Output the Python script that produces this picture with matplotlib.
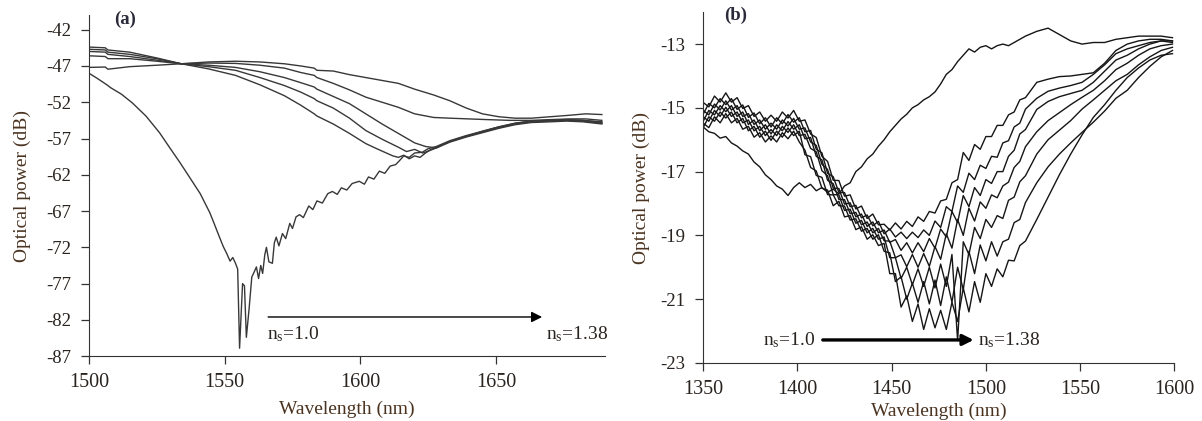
import matplotlib
matplotlib.use('Agg')
import matplotlib.pyplot as plt

plt.rcParams['font.family'] = 'Liberation Serif'
plt.rcParams['mathtext.fontset'] = 'custom'
plt.rcParams['mathtext.rm'] = 'Liberation Serif'
plt.rcParams['mathtext.it'] = 'Liberation Serif:italic'
plt.rcParams['axes.unicode_minus'] = False

lab_col = '#4a3320'   # brownish text of the original figure
tick_col = '#2a2420'

# ---------------- panel (a) : 1500-1690 nm ----------------
# ns = 1.0 (air), deep resonance near 1556 nm
wl_a0 = [1500, 1503, 1506.6, 1508, 1512, 1516, 1521, 1526, 1530, 1533.5, 1537, 1541, 1544.5,
         1546, 1548, 1549.5, 1550.7, 1552, 1553, 1554, 1554.8, 1555.5, 1556.6, 1557.3, 1558,
         1559, 1560, 1561, 1561.7, 1562.5, 1563.3, 1564, 1564.8, 1565.4, 1566.3, 1567.6, 1568.3,
         1569, 1570, 1571.3, 1572.5, 1574, 1575, 1576.3, 1577.6, 1579, 1581, 1582.5, 1584, 1586,
         1588, 1589.7, 1591.5, 1593, 1595, 1597, 1599.6, 1601.5, 1603, 1605, 1607, 1609, 1611,
         1613, 1614.3, 1616, 1618, 1620, 1622.8, 1625, 1628, 1633, 1639, 1645, 1651, 1657, 1663,
         1670, 1676, 1682, 1689]
pw_a0 = [-48.0, -48.7, -49.6, -50.0, -50.9, -52.1, -53.9, -56.2, -58.4, -60.3, -62.3, -64.6, -67.2,
         -68.6, -70.5, -71.9, -72.8, -73.9, -73.4, -74.2, -75.0, -85.9, -77.0, -77.3, -84.4,
         -80.5, -76.1, -75.3, -74.7, -76.3, -74.5, -75.6, -73.0, -72.0, -74.0, -74.2, -71.4,
         -70.6, -71.8, -70.1, -70.8, -68.7, -69.4, -67.8, -67.5, -67.9, -66.3, -66.8, -65.6, -65.9,
         -64.6, -64.3, -64.7, -63.8, -64.1, -63.2, -62.9, -63.3, -62.3, -62.6, -61.5, -61.8, -60.8,
         -60.6, -60.1, -59.4, -59.6, -59.0, -58.9, -58.4, -58.1, -57.3, -56.6, -56.0, -55.4, -54.9, -54.6,
         -54.5, -54.4, -54.5, -54.8]

# higher surrounding indices (dip moves to longer wavelength)
wl_a1 = [1500, 1506, 1507, 1515, 1525, 1534, 1544, 1554, 1563, 1572, 1578, 1583, 1584, 1590, 1596,
         1602, 1606, 1609, 1612, 1614, 1616, 1618, 1620, 1622, 1624, 1626, 1628, 1633, 1639, 1645,
         1651, 1657, 1663, 1670, 1676, 1682, 1689]
pw_a1 = [-44.4, -44.5, -44.8, -45.1, -45.9, -46.7, -47.4, -48.3, -49.6, -51.1, -52.4, -53.6, -53.9, -55.0, -56.3,
         -57.7, -58.4, -58.9, -59.4, -59.6, -59.3, -59.8, -59.4, -59.6, -59.0, -58.5, -58.2, -57.4, -56.7, -56.0,
         -55.4, -54.9, -54.6, -54.5, -54.4, -54.5, -54.7]

wl_a2 = [1500, 1506, 1507, 1515, 1525, 1534, 1544, 1554, 1563, 1572, 1578, 1583, 1584, 1590, 1596,
         1602, 1608, 1614, 1617, 1620, 1623, 1626, 1628, 1633, 1639, 1645, 1651, 1657, 1663, 1670,
         1676, 1682, 1689]
pw_a2 = [-44.7, -44.8, -45.1, -45.4, -46.0, -46.7, -47.1, -47.6, -48.6, -49.7, -50.6, -51.5, -51.8, -52.8, -54.2,
         -55.9, -57.1, -58.2, -58.8, -58.5, -59.0, -58.6, -58.3, -57.5, -56.8, -56.2, -55.6, -55.1, -54.8, -54.7,
         -54.6, -54.7, -55.0]

wl_a3 = [1500, 1506, 1507, 1515, 1525, 1534, 1544, 1554, 1563, 1572, 1578, 1583, 1584, 1590, 1596,
         1602, 1608, 1614, 1620, 1624, 1628, 1633, 1639, 1645, 1651, 1657, 1663, 1670, 1676, 1682, 1689]
pw_a3 = [-45.0, -45.1, -45.4, -45.7, -46.2, -46.7, -46.9, -47.2, -47.8, -48.6, -49.3, -49.9, -50.2, -51.2, -52.2,
         -53.6, -55.0, -56.3, -57.6, -58.1, -58.3, -57.4, -56.7, -56.1, -55.5, -55.0, -54.7, -54.6, -54.5, -54.6, -54.9]

wl_a4 = [1500, 1506, 1507, 1515, 1525, 1534, 1544, 1554, 1563, 1572, 1578, 1583, 1584, 1590, 1596,
         1602, 1608, 1614, 1620, 1627, 1633, 1640, 1647, 1655, 1663, 1670, 1677, 1683, 1689]
pw_a4 = [-45.6, -45.7, -46.0, -46.0, -46.35, -46.7, -46.6, -46.65, -46.9, -47.3, -47.9, -48.3, -48.6, -49.4, -50.3,
         -51.3, -52.0, -52.7, -53.6, -54.1, -54.2, -54.3, -54.4, -54.5, -54.5, -54.4, -54.3, -54.3, -54.5]

wl_a5 = [1500, 1506, 1507, 1515, 1525, 1534, 1544, 1554, 1563, 1572, 1578, 1583, 1584, 1590, 1596,
         1602, 1608, 1614, 1620, 1627, 1633, 1639, 1645, 1651, 1657, 1663, 1670, 1677, 1683, 1689]
pw_a5 = [-47.2, -47.15, -47.45, -47.1, -46.9, -46.7, -46.45, -46.35, -46.45, -46.7, -47.0, -47.3, -47.6, -47.7, -48.2,
         -48.6, -49.0, -49.4, -50.2, -51.0, -51.8, -52.8, -53.6, -54.0, -54.2, -54.2, -54.0, -53.8, -53.6, -53.7]

# ---------------- panel (b) : 1350-1600 nm ----------------
wl_b = [1350, 1353, 1356, 1359, 1362, 1365, 1368, 1371, 1374, 1377,
        1380, 1383, 1386, 1389, 1392, 1395, 1398, 1401, 1404, 1407,
        1410, 1413, 1416, 1419, 1422, 1425, 1428, 1431, 1434, 1437,
        1440, 1443, 1446, 1449, 1452, 1455, 1458, 1461, 1464, 1467,
        1470, 1473, 1476, 1479, 1482, 1485, 1488, 1491, 1494, 1497,
        1500, 1503, 1506, 1509, 1512, 1515, 1518, 1521,
        1527, 1533, 1539, 1545, 1551, 1557, 1563, 1569, 1575, 1581, 1587, 1593, 1599]

pw_b0 = [-15.6, -15.75, -15.8, -15.95, -15.9, -16.1, -16.2, -16.35, -16.45, -16.7,
         -16.85, -17.1, -17.25, -17.45, -17.55, -17.75, -17.5, -17.35, -17.5, -17.4,
         -17.6, -17.5, -17.65, -17.55, -17.7, -17.45, -17.35, -17.0, -16.85, -16.6,
         -16.45, -16.2, -16.0, -15.75, -15.55, -15.35, -15.2, -15.0, -14.9, -14.75,
         -14.65, -14.5, -14.25, -13.95, -13.8, -13.55, -13.35, -13.15, -13.25, -13.1,
         -13.05, -13.15, -13.05, -13.0, -13.05, -12.95, -12.85, -12.75,
         -12.6, -12.5, -12.7, -12.9, -13.0, -12.95, -12.95, -12.85, -12.8, -12.75, -12.75, -12.75, -12.8]

pw_b1 = [-14.83, -14.97, -14.63, -14.82, -14.53, -14.82, -14.68, -15.02, -14.93, -15.27,
         -15.13, -15.42, -15.23, -15.42, -15.13, -15.32, -15.08, -15.42, -15.38, -15.82,
         -15.93, -16.52, -16.68, -17.27, -17.28, -17.77, -17.73, -18.17, -18.08, -18.47,
         -18.33, -18.67, -18.65, -18.83, -18.61, -18.8, -18.56, -18.72, -18.42, -18.56,
         -18.25, -18.3, -17.92, -17.87, -17.35, -17.25, -16.4, -16.65, -16.15, -16.3,
         -15.9, -15.9, -15.55, -15.55, -15.22, -15.13, -14.75, -14.68,
         -14.2, -14.1, -14.02, -14.0, -13.95, -13.9, -13.6, -13.2, -13.0, -12.9, -12.85, -12.85, -12.9]

pw_b2 = [-15.2, -14.86, -15.0, -14.71, -14.9, -14.71, -15.05, -14.91, -15.3, -15.16,
         -15.5, -15.31, -15.6, -15.31, -15.5, -15.21, -15.45, -15.31, -15.75, -15.71,
         -16.3, -16.41, -17.05, -17.16, -17.65, -17.66, -18.1, -18.06, -18.45, -18.36,
         -18.7, -18.56, -18.95, -18.8, -19.05, -18.9, -19.1, -18.9, -19.07, -18.83,
         -19.0, -18.55, -18.75, -18.1, -18.25, -17.45, -17.65, -17.05, -17.25, -16.8,
         -16.9, -16.52, -16.55, -16.1, -16.03, -15.6, -15.48, -15.04,
         -14.7, -14.48, -14.38, -14.3, -14.2, -13.95, -13.65, -13.3, -13.15, -13.05, -12.95, -12.9, -12.95]

pw_b3 = [-15.08, -15.22, -14.88, -15.07, -14.78, -15.07, -14.93, -15.27, -15.18, -15.52,
         -15.38, -15.67, -15.48, -15.67, -15.38, -15.57, -15.33, -15.67, -15.63, -16.07,
         -16.18, -16.77, -16.93, -17.52, -17.53, -18.02, -17.98, -18.42, -18.33, -18.72,
         -18.58, -18.92, -18.83, -19.22, -19.13, -19.47, -19.23, -19.55, -19.23, -19.51,
         -19.1, -19.4, -18.8, -19.05, -18.25, -18.6, -17.75, -18.1, -17.5, -17.75,
         -17.25, -17.37, -17.0, -17.0, -16.52, -16.33, -15.82, -15.68,
         -15.05, -14.8, -14.65, -14.55, -14.45, -14.2, -13.85, -13.5, -13.35, -13.15, -13.0, -12.9, -12.9]

pw_b4 = [-15.42, -15.08, -15.22, -14.93, -15.12, -14.93, -15.27, -15.13, -15.52, -15.38,
         -15.72, -15.53, -15.82, -15.53, -15.72, -15.43, -15.67, -15.53, -15.97, -15.93,
         -16.52, -16.63, -17.27, -17.38, -17.87, -17.88, -18.32, -18.28, -18.67, -18.58,
         -18.92, -18.78, -19.17, -19.18, -19.7, -19.61, -19.98, -19.6, -20.0, -19.57,
         -19.97, -19.35, -19.75, -18.95, -19.4, -18.5, -19.0, -18.15, -18.55, -17.95,
         -18.15, -17.73, -17.82, -17.45, -17.33, -16.87, -16.68, -16.22,
         -15.75, -15.4, -15.15, -14.9, -14.67, -14.45, -14.15, -13.8, -13.6, -13.35, -13.15, -13.05, -13.0]

pw_b5 = [-15.28, -15.42, -15.08, -15.27, -14.98, -15.27, -15.13, -15.47, -15.38, -15.72,
         -15.58, -15.87, -15.68, -15.87, -15.58, -15.77, -15.53, -15.87, -15.83, -16.27,
         -16.38, -16.97, -17.13, -17.72, -17.73, -18.22, -18.18, -18.62, -18.53, -18.92,
         -18.78, -19.12, -19.05, -19.7, -19.7, -20.35, -20.0, -20.55, -20.05, -20.6,
         -20.0, -20.65, -19.9, -20.6, -19.6, -22.3, -19.2, -19.6, -18.75, -19.1,
         -18.5, -18.75, -18.38, -18.47, -17.9, -17.8, -17.32, -17.13,
         -16.45, -16.0, -15.7, -15.4, -15.04, -14.75, -14.45, -14.15, -13.95, -13.65, -13.4, -13.2, -13.1]

pw_b6 = [-15.62, -15.28, -15.42, -15.13, -15.32, -15.13, -15.47, -15.33, -15.72, -15.58,
         -15.92, -15.73, -16.02, -15.73, -15.92, -15.63, -15.87, -15.73, -16.47, -16.53,
         -17.12, -17.18, -17.72, -17.73, -18.07, -18.08, -18.52, -18.48, -18.87, -18.78,
         -19.12, -18.98, -19.5, -19.55, -20.45, -20.3, -21.0, -20.5, -21.1, -20.45,
         -21.15, -20.4, -21.2, -20.3, -21.1, -20.0, -20.7, -19.5, -20.2, -19.3,
         -19.8, -19.2, -19.65, -19.2, -19.12, -18.6, -18.5, -17.97,
         -17.35, -16.85, -16.45, -16.1, -15.77, -15.45, -15.1, -14.7, -14.45, -14.05, -13.7, -13.4, -13.2]

pw_b7 = [-15.48, -15.62, -15.28, -15.47, -15.18, -15.47, -15.33, -15.67, -15.58, -15.92,
         -15.78, -16.07, -15.88, -16.07, -15.78, -15.97, -15.73, -16.07, -16.33, -16.87,
         -16.98, -17.52, -17.58, -18.07, -17.93, -18.42, -18.38, -18.82, -18.73, -19.12,
         -18.98, -19.32, -19.25, -20.2, -20.2, -21.25, -20.9, -21.7, -21.15, -21.95,
         -21.3, -21.9, -21.35, -21.95, -21.1, -21.7, -20.65, -21.4, -20.45, -21.1,
         -20.2, -20.6, -20.05, -20.3, -19.78, -19.8, -19.32, -19.18,
         -18.5, -17.8, -17.1, -16.45, -15.85, -15.3, -14.9, -14.45, -14.05, -13.75, -13.5, -13.35, -13.3]

fig = plt.figure(figsize=(12.02, 4.21), dpi=100)
ax1 = fig.add_axes([0.074, 0.154, 0.429, 0.81])
ax2 = fig.add_axes([0.585, 0.138, 0.392, 0.833])

curves_a = [(wl_a0, pw_a0), (wl_a1, pw_a1), (wl_a2, pw_a2), (wl_a3, pw_a3), (wl_a4, pw_a4), (wl_a5, pw_a5)]
for wl, pw in curves_a:
    ax1.plot(wl, pw, color='#383838', lw=1.0)

for pw in [pw_b0, pw_b1, pw_b2, pw_b3, pw_b4, pw_b5, pw_b6, pw_b7]:
    ax2.plot(wl_b, pw, color='#151515', lw=1.0)

ax1.set_xlim(1500, 1690)
ax1.set_ylim(-87, -40)
ax1.set_xticks([1500, 1550, 1600, 1650])
ax1.set_yticks(list(range(-42, -88, -5)))

ax2.set_xlim(1350, 1600)
ax2.set_ylim(-23, -12)
ax2.set_xticks(list(range(1350, 1601, 50)))
ax2.set_yticks(list(range(-13, -24, -2)))

for ax in (ax1, ax2):
    ax.spines['top'].set_visible(False)
    ax.spines['right'].set_visible(False)
    ax.spines['left'].set_color('#333333')
    ax.spines['bottom'].set_color('#333333')
    ax.tick_params(axis='both', direction='out', length=6, width=0.9, color='#333333', labelcolor=tick_col)
    ax.tick_params(axis='x', labelsize=14.5, pad=6)
    ax.tick_params(axis='y', labelsize=13.5, pad=7)
    ax.set_xlabel('Wavelength (nm)', fontsize=14, color=lab_col)
    ax.set_ylabel('Optical power (dB)', fontsize=14, color=lab_col)
    ax.xaxis.label.set_va('center')
    ax.yaxis.label.set_va('center')

ax1.xaxis.set_label_coords(0.5, -0.157)
ax1.yaxis.set_label_coords(-0.13, 0.5)
ax2.xaxis.set_label_coords(0.5, -0.137)
ax2.yaxis.set_label_coords(-0.132, 0.5)

ax1.text(0.07, 0.988, '(a)', transform=ax1.transAxes, fontsize=13.5, fontweight='bold',
         color='#2a2a3a', ha='center', va='center')
ax2.text(0.068, 0.99, '(b)', transform=ax2.transAxes, fontsize=13.5, fontweight='bold',
         color='#2a2a3a', ha='center', va='center')

# arrows showing the shift with increasing surrounding index
ax1.annotate('', xy=(1668, -81.6), xytext=(1565, -81.6),
             arrowprops=dict(arrowstyle='-|>', lw=1.0, color='black', mutation_scale=16))
ax1.text(1565.5, -83.9, r'n$_{\mathrm{s}}$=1.0', fontsize=14, color=tick_col, ha='left', va='center')
ax1.text(1668.5, -83.9, r'n$_{\mathrm{s}}$=1.38', fontsize=14, color=tick_col, ha='left', va='center',
         clip_on=False)

ax2.annotate('', xy=(1495, -22.28), xytext=(1412, -22.28),
             arrowprops=dict(arrowstyle='-|>', lw=2.4, color='black', mutation_scale=16))
ax2.text(1409.5, -22.28, r'n$_{\mathrm{s}}$=1.0', fontsize=14, color=tick_col, ha='right', va='center')
ax2.text(1496, -22.28, r'n$_{\mathrm{s}}$=1.38', fontsize=14, color=tick_col, ha='left', va='center')

fig.savefig('out.png', dpi=100)
